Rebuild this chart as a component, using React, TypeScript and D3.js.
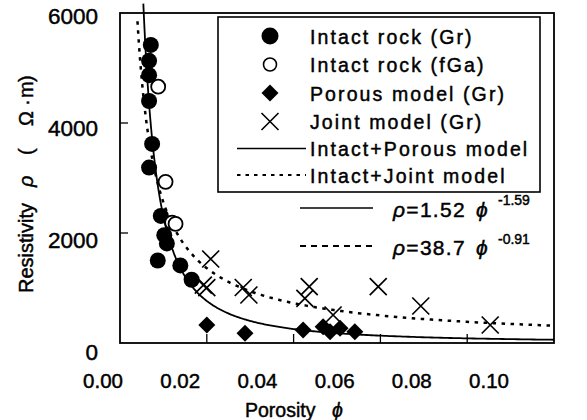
import React from 'react';
import * as d3 from 'd3';

// ---- data ----
const intactGrPhi = [0.0071, 0.0067, 0.0067, 0.0067, 0.0074, 0.0067, 0.0094, 0.0102, 0.0108, 0.0087, 0.0139, 0.0165];
const intactGrRho = [5420, 5130, 4870, 4400, 3620, 3190, 2310, 1960, 1810, 1500, 1410, 1150];

const intactFgaPhi = [0.0088, 0.0105, 0.0120, 0.0128];
const intactFgaRho = [4660, 2930, 2190, 2165];

const porousPhi = [0.0200, 0.0288, 0.0422, 0.0468, 0.0484, 0.0507, 0.0541];
const porousRho = [327, 176, 236, 296, 205, 267, 205];

const jointPhi = [0.0209, 0.0192, 0.0200, 0.0284, 0.0297, 0.0436, 0.0426, 0.0595, 0.0491, 0.0693, 0.0853];
const jointRho = [1527, 1054, 1005, 1009, 873, 1024, 813, 1024, 509, 673, 327];

// fitted curves rho = a * phi^b
const porousFitA = 1.52;
const porousFitB = -1.59;
const jointFitA = 38.7;
const jointFitB = -0.91;

const xTicks = [0, 0.02, 0.04, 0.06, 0.08, 0.1];
const xTickLabels = ['0.00', '0.02', '0.04', '0.06', '0.08', '0.10'];
const yTicks = [0, 2000, 4000, 6000];
const yTickLabels = ['0', '2000', '4000', '6000'];

const legendLabels = [
  'Intact rock (Gr)',
  'Intact rock (fGa)',
  'Porous model (Gr)',
  'Joint model (Gr)',
  'Intact+Porous model',
  'Intact+Joint model',
];

const FONT = '"Liberation Sans", Arial, Helvetica, sans-serif';
const PHI = '\u03D5';

export default function App() {
  const W = 587, H = 420;
  const left = 120, right = 554, top = 13, bottom = 343;
  const x = d3.scaleLinear().domain([0, 0.1]).range([left, right]);
  const y = d3.scaleLinear().domain([0, 6000]).range([bottom, top]);
  // tick labels in the reference are printed offset from the tick marks
  const xLab = d3.scaleLinear().domain([0, 0.1]).range([103, 489]);
  const yLab = d3.scaleLinear().domain([0, 6000]).range([351.5, 15.5]);

  const fitCurve = (a: number, b: number, rhoMax: number) => {
    const phiMin = Math.pow(rhoMax / a, 1 / b);
    const n = 300;
    const lp0 = Math.log(phiMin), lp1 = Math.log(0.1);
    const pts: [number, number][] = d3.range(n + 1).map((i) => {
      const p = Math.exp(lp0 + (lp1 - lp0) * (i / n));
      return [p, a * Math.pow(p, b)];
    });
    return d3.line<[number, number]>().x((d) => x(d[0])).y((d) => y(d[1]))(pts) || '';
  };

  const solidPath = fitCurve(porousFitA, porousFitB, 6170);
  const dottedPath = fitCurve(jointFitA, jointFitB, 5850);

  const rF = 8;
  const dS = 8.5;
  const cS = 8.5;
  const diamond = (cx: number, cy: number, s: number) =>
    `M${cx},${cy - s}L${cx + s},${cy}L${cx},${cy + s}L${cx - s},${cy}Z`;
  const cross = (cx: number, cy: number, s: number) =>
    `M${cx - s},${cy - s}L${cx + s},${cy + s}M${cx - s},${cy + s}L${cx + s},${cy - s}`;

  // legend layout
  const lgX = 218, lgY = 17, lgW = 322, lgH = 175;
  const mX = 270;
  const rowY = [36, 64.5, 93, 121.5, 148.5, 175];
  const textX = 310;

  const ts = { stroke: '#000', strokeWidth: 0.45 } as const;

  return (
    <svg width={W} height={H} style={{ position: 'absolute', left: 0, top: 0, background: '#fff' }} fontFamily={FONT}>
      <rect x={0} y={0} width={W} height={H} fill="#fff" />

      {/* curves */}
      <path d={solidPath} fill="none" stroke="#000" strokeWidth={1.8} />
      <path d={dottedPath} fill="none" stroke="#000" strokeWidth={2.5} strokeDasharray="3.5,5.5" />

      {/* frame */}
      <rect x={left} y={top} width={right - left} height={bottom - top} fill="none" stroke="#000" strokeWidth={1.8} />
      {xTicks.slice(1, -1).map((t) => (
        <line key={'xt' + t} x1={x(t)} x2={x(t)} y1={bottom} y2={bottom - 9} stroke="#000" strokeWidth={1.3} />
      ))}
      {yTicks.slice(1, -1).map((t) => (
        <line key={'yt' + t} x1={left} x2={left + 8} y1={y(t)} y2={y(t)} stroke="#000" strokeWidth={1.3} />
      ))}

      {/* tick labels */}
      {xTicks.map((t, i) => (
        <text key={'xl' + t} x={xLab(t)} y={388} textAnchor="middle" fontSize={20.5} fill="#000" {...ts}>
          {xTickLabels[i]}
        </text>
      ))}
      {yTicks.map((t, i) => (
        <text key={'yl' + t} x={98} y={yLab(t) + 8} textAnchor="end" fontSize={22.5} fill="#000" {...ts}>
          {yTickLabels[i]}
        </text>
      ))}

      {/* axis titles */}
      <text x={245} y={417} fontSize={19.5} fill="#000" {...ts}>
        Porosity
        <tspan x={332} fontStyle="italic">{PHI}</tspan>
      </text>
      <text transform="translate(33,293) rotate(-90)" fontSize={20} fill="#000" {...ts}>
        <tspan x={0}>Resistivity</tspan>
        <tspan x={106} fontStyle="italic">ρ</tspan>
        <tspan x={138}>(</tspan>
        <tspan x={167}>Ω</tspan>
        <tspan x={187}>·</tspan>
        <tspan x={195}>m</tspan>
        <tspan x={211}>)</tspan>
      </text>

      {/* data: porous (diamonds) */}
      {porousPhi.map((p, i) => (
        <path key={'pd' + i} d={diamond(x(p), y(porousRho[i]), dS)} fill="#000" />
      ))}
      {/* joint (crosses) */}
      {jointPhi.map((p, i) => (
        <path key={'jx' + i} d={cross(x(p), y(jointRho[i]), cS)} fill="none" stroke="#000" strokeWidth={1.7} />
      ))}
      {/* intact Gr (filled circles) */}
      {intactGrPhi.map((p, i) => (
        <circle key={'gr' + i} cx={x(p)} cy={y(intactGrRho[i])} r={rF} fill="#000" />
      ))}
      {/* intact fGa (open circles) */}
      {intactFgaPhi.map((p, i) => (
        <circle key={'fg' + i} cx={x(p)} cy={y(intactFgaRho[i])} r={7} fill="#fff" stroke="#000" strokeWidth={1.8} />
      ))}

      {/* legend */}
      <rect x={lgX} y={lgY} width={lgW} height={lgH} fill="#fff" stroke="#000" strokeWidth={1.6} />
      <circle cx={mX} cy={rowY[0]} r={8.5} fill="#000" />
      <circle cx={mX} cy={rowY[1]} r={6.5} fill="#fff" stroke="#000" strokeWidth={1.6} />
      <path d={diamond(mX, rowY[2], 8.5)} fill="#000" />
      <path d={cross(mX, rowY[3], 8.5)} fill="none" stroke="#000" strokeWidth={1.6} />
      <line x1={237} x2={306} y1={rowY[4]} y2={rowY[4]} stroke="#000" strokeWidth={1.6} />
      <line x1={237} x2={306} y1={rowY[5]} y2={rowY[5]} stroke="#000" strokeWidth={2.2} strokeDasharray="3.5,5" />
      {legendLabels.map((l, i) => (
        <text key={'lg' + i} x={textX} y={rowY[i] + 7.5} fontSize={19.5} letterSpacing={2.1} fill="#000" {...ts}>
          {l}
        </text>
      ))}

      {/* equations */}
      <line x1={300} x2={373} y1={208} y2={208} stroke="#000" strokeWidth={1.6} />
      <text x={393} y={216.5} fontSize={21} letterSpacing={1.3} fill="#000" {...ts}>
        <tspan fontStyle="italic">ρ</tspan>=1.52
        <tspan x={476} fontStyle="italic">{PHI}</tspan>
        <tspan x={498} y={205} fontSize={14} letterSpacing={0}>-1.59</tspan>
      </text>
      <line x1={300} x2={373} y1={246} y2={246} stroke="#000" strokeWidth={2.2} strokeDasharray="6,5" />
      <text x={393} y={255} fontSize={21} letterSpacing={1.3} fill="#000" {...ts}>
        <tspan fontStyle="italic">ρ</tspan>=38.7
        <tspan x={476} fontStyle="italic">{PHI}</tspan>
        <tspan x={498} y={244} fontSize={14} letterSpacing={0}>-0.91</tspan>
      </text>
    </svg>
  );
}
